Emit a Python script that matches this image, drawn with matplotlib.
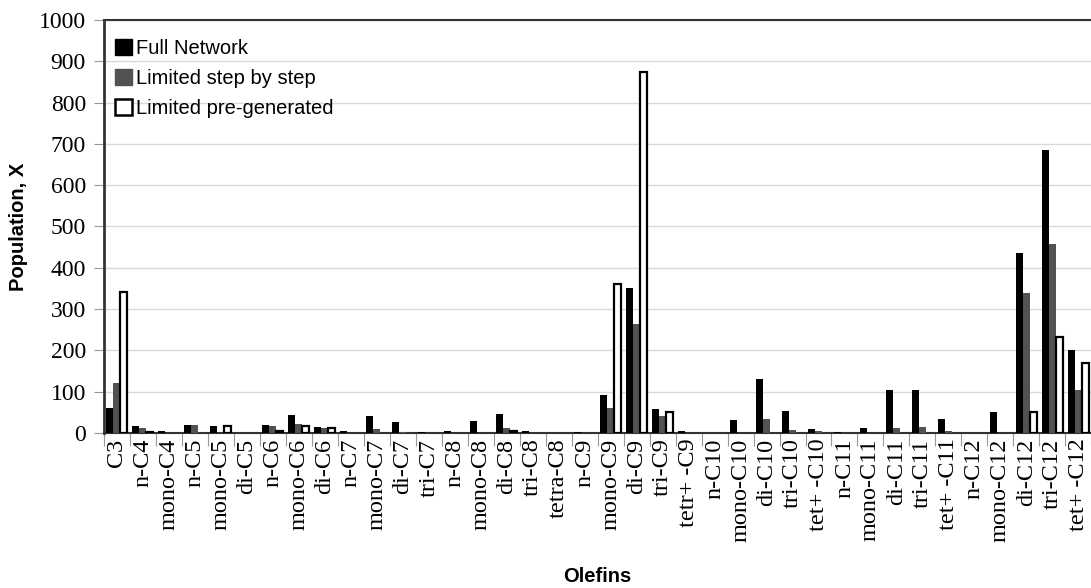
import matplotlib.pyplot as plt
import numpy as np
from matplotlib.patches import Patch

categories = ["C3", "n-C4", "mono-C4", "n-C5", "mono-C5", "di-C5",
              "n-C6", "mono-C6", "di-C6", "n-C7", "mono-C7", "di-C7", "tri-C7",
              "n-C8", "mono-C8", "di-C8", "tri-C8", "tetra-C8",
              "n-C9", "mono-C9", "di-C9", "tri-C9", "tetr+ -C9",
              "n-C10", "mono-C10", "di-C10", "tri-C10", "tet+ -C10",
              "n-C11", "mono-C11", "di-C11", "tri-C11", "tet+ -C11",
              "n-C12", "mono-C12", "di-C12", "tri-C12", "tet+ -C12"]

full_network = [60, 18, 5, 20, 16, 0,
                20, 43, 15, 4, 40, 26, 2,
                4, 30, 45, 4, 0,
                2, 93, 350, 57, 4,
                0, 31, 130, 53, 9,
                3, 12, 104, 103, 33,
                0, 52, 435, 685, 200]
step_by_step = [120, 12, 1, 19, 0, 0,
                18, 23, 12, 1, 10, 2, 1,
                0, 1, 13, 1, 0,
                0, 60, 265, 42, 1,
                0, 0, 35, 8, 4,
                1, 1, 11, 15, 5,
                0, 1, 338, 458, 105]
pre_generated = [342, 3, 0, 0, 16, 0,
                 4, 18, 12, 0, 0, 0, 0,
                 0, 0, 4, 0, 0,
                 0, 360, 875, 51, 0,
                 0, 0, 0, 0, 0,
                 0, 0, 0, 0, 0,
                 0, 0, 52, 232, 170]

# empty categories get no bar at all
def nz(vals):
    return np.where(np.array(vals, float) > 0, vals, np.nan)

x = np.arange(len(categories))
w = 0.27

fig = plt.figure(figsize=(10.91, 5.88), dpi=100)
ax = fig.add_axes([0.0953, 0.2636, 0.905, 0.7024])

ax.bar(x - w, nz(full_network), w, color="black", zorder=3)
ax.bar(x, nz(step_by_step), w, color="#525252", zorder=3)
ax.bar(x + w, nz(pre_generated), w, color="white", edgecolor="black", linewidth=1.6, zorder=3)

ax.set_xlim(-0.5, len(categories) - 0.5)
ax.set_ylim(0, 1000)
ax.set_yticks(np.arange(0, 1001, 100))
ax.yaxis.grid(True, color="#d9d9d9", linewidth=1, zorder=0)
ax.set_axisbelow(True)

ax.set_xticks(np.arange(-0.5, len(categories), 1), minor=False)
ax.set_xticklabels([])
ax.set_xticks(x, minor=True)
ax.set_xticklabels(categories, minor=True, rotation=90, fontsize=17.5,
                   family="Liberation Serif")
ax.tick_params(axis="x", which="major", length=9, color="#999999")
ax.tick_params(axis="x", which="minor", length=0, pad=4)
ax.tick_params(axis="y", length=7, color="#999999", labelsize=17, pad=6)
for lab in ax.get_yticklabels():
    lab.set_family("Liberation Serif")

ax.spines["right"].set_visible(False)
ax.spines["top"].set_color("#333333")
ax.spines["left"].set_color("#333333")
ax.spines["left"].set_linewidth(2)
ax.spines["top"].set_linewidth(1.5)
ax.spines["bottom"].set_color("#333333")
ax.spines["bottom"].set_linewidth(1.5)

ax.set_ylabel("Population, X", fontsize=14.5, fontweight="bold",
              family="Liberation Sans", labelpad=8)
ax.set_xlabel("Olefins", fontsize=14.5, fontweight="bold",
              family="Liberation Sans", labelpad=18)

handles = [Patch(facecolor="black", edgecolor="black"),
           Patch(facecolor="#525252", edgecolor="#525252"),
           Patch(facecolor="white", edgecolor="black", linewidth=1.8)]
ax.legend(handles, ["Full Network", "Limited step by step", "Limited pre-generated"],
          loc="upper left", frameon=False, handlelength=0.85, handleheight=0.85,
          handletextpad=0.2, labelspacing=0.55, borderaxespad=0.5,
          bbox_to_anchor=(-0.007, 0.998),
          prop={"family": "Liberation Sans", "size": 14.5})

plt.savefig("out.png", dpi=100)
plt.close()
